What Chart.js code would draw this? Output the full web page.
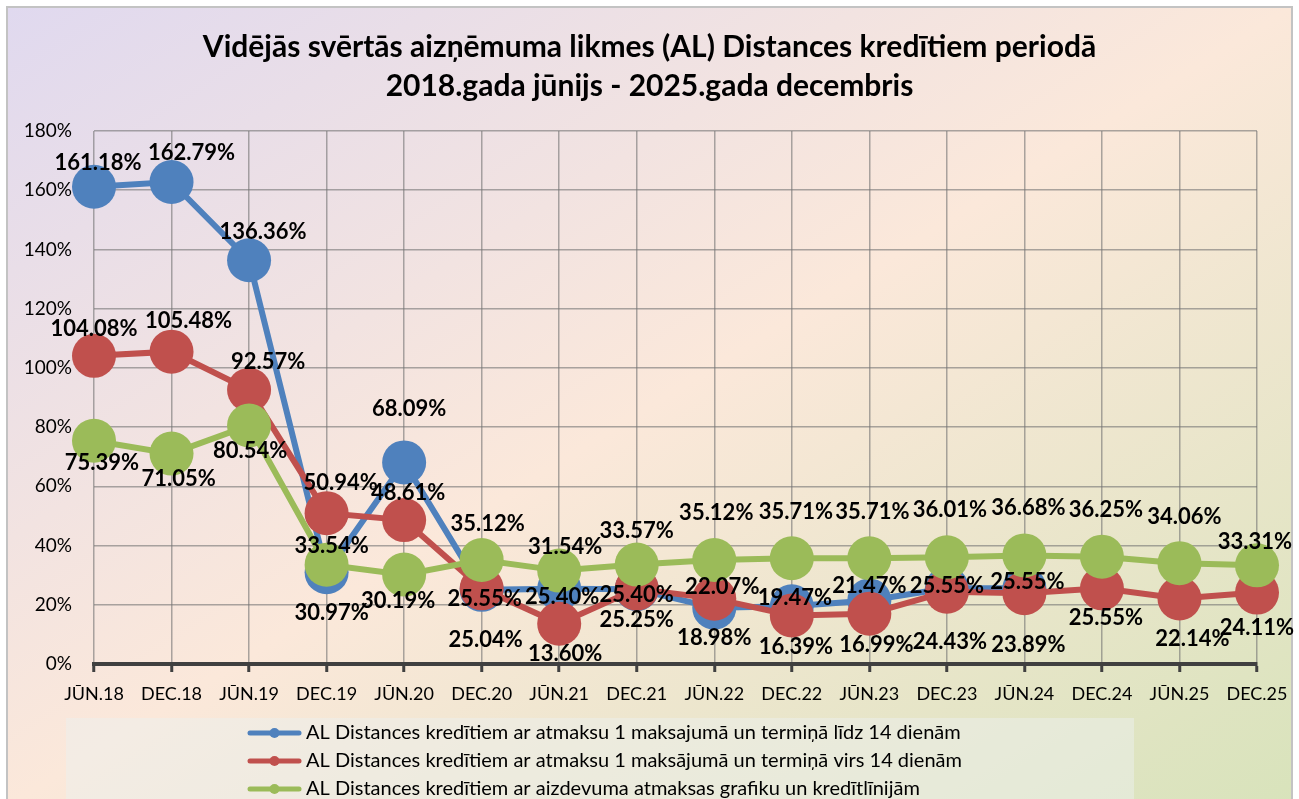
<!DOCTYPE html>
<html lang="lv">
<head>
<meta charset="utf-8">
<title>Vidējās svērtās aizņēmuma likmes (AL)</title>
<script src="https://cdn.jsdelivr.net/npm/chart.js@4.4.1/dist/chart.umd.min.js"></script>
<style>
    html, body { margin: 0; padding: 0; background: #fff; overflow: hidden; }
    #frame {
        position: absolute; left: 6px; top: 6px; width: 1287px; height: 800px;
        box-sizing: border-box; border: 2px solid #c3c3c3; border-bottom: none;
        background: linear-gradient(to bottom right, #e0d9ef 0%, #fbe8da 50%, #d8e3bb 100%);
    }
    #chart { position: absolute; left: 0; top: 0; }
</style>
</head>
<body>
<div id="frame"></div>
<canvas id="chart" width="1299" height="799"></canvas>
<script>
// Kategorijas (pusgadi)
const periods = ['JŪN.18', 'DEC.18', 'JŪN.19', 'DEC.19', 'JŪN.20', 'DEC.20', 'JŪN.21', 'DEC.21',
                 'JŪN.22', 'DEC.22', 'JŪN.23', 'DEC.23', 'JŪN.24', 'DEC.24', 'JŪN.25', 'DEC.25'];

// AL, % (1 maksājums, termiņš līdz 14 dienām)
const rateUpTo14 = [161.18, 162.79, 136.36, 30.97, 68.09, 25.04, 25.40, 25.25,
                    18.98, 19.47, 21.47, 25.55, 25.55, null, null, null];

// AL, % (1 maksājums, termiņš virs 14 dienām)
const rateOver14 = [104.08, 105.48, 92.57, 50.94, 48.61, 25.55, 13.60, 25.40,
                    22.07, 16.39, 16.99, 24.43, 23.89, 25.55, 22.14, 24.11];

// AL, % (atmaksas grafiks un kredītlīnijas)
const rateSchedule = [75.39, 71.05, 80.54, 33.54, 30.19, 35.12, 31.54, 33.57,
                      35.12, 35.71, 35.71, 36.01, 36.68, 36.25, 34.06, 33.31];

// Y ass iedaļas
const yTicks = [0, 20, 40, 60, 80, 100, 120, 140, 160, 180];

const seriesNames = [
    'AL Distances kredītiem ar atmaksu 1 maksajumā un termiņā līdz 14 dienām',
    'AL Distances kredītiem ar atmaksu 1 maksājumā un termiņā virs 14 dienām',
    'AL Distances kredītiem ar aizdevuma atmaksas grafiku un kredītlīnijām'
];

const titleLines = [
    'Vidējās svērtās aizņēmuma likmes (AL) Distances kredītiem periodā',
    '2018.gada jūnijs - 2025.gada decembris'
];

// Datu etiķešu nobīdes no punkta (dx, dy), tikai novietojumam
const labelShift = [
    [[4,-24],[20,-29],[14,-28],[5,41],[5,-53],[4,50],[3,8],[0,31],[0,30],[3,-8],[0,-15],[0,-2],[3,-6],null,null,null],
    [[0,-27],[17,-31],[19,-28],[14,-30],[4,-27],[3,11],[6,30],[0,6],[8,-12],[4,31],[7,31],[3,50],[4,52],[4,30],[13,40],[0,35]],
    [[8,22],[7,25],[1,25],[5,-19],[-6,26],[6,-36],[6,-24],[0,-34],[2,-47],[4,-46],[3,-46],[3,-47],[4,-47],[4,-47],[5,-46],[-2,-23]]
];

const FONT = 'Lato';

/**
 * Datu etiķetes virs marķieriem
 */
const valueLabels = {
    id: 'valueLabels',
    afterDatasetsDraw(chart) {
        const ctx = chart.ctx;
        ctx.save();
        ctx.font = `bold 22px ${FONT}`;
        ctx.fillStyle = '#000';
        ctx.textAlign = 'center';
        ctx.textBaseline = 'middle';
        chart.data.datasets.forEach((ds, di) => {
            const meta = chart.getDatasetMeta(di);
            meta.data.forEach((pt, i) => {
                const v = ds.data[i];
                const shift = labelShift[di][i];
                if (v === null || !shift) return;
                ctx.fillText(v.toFixed(2) + '%', pt.x + shift[0], pt.y + shift[1]);
            });
        });
        ctx.restore();
    }
};

/**
 * Leģenda zem diagrammas (katra sērija savā rindā)
 */
const legendBox = {
    id: 'legendBox',
    afterDraw(chart) {
        const ctx = chart.ctx;
        const top = chart.chartArea.bottom + 54;
        ctx.save();
        ctx.fillStyle = 'rgba(236,240,238,0.5)';
        ctx.fillRect(66, top, 1068, chart.height - top);
        ctx.font = `20px ${FONT}`;
        ctx.textAlign = 'left';
        ctx.textBaseline = 'middle';
        chart.data.datasets.forEach((ds, i) => {
            const y = top + 15 + i * 28;
            ctx.strokeStyle = ds.borderColor;
            ctx.fillStyle = ds.borderColor;
            ctx.lineWidth = 5;
            ctx.lineCap = 'round';
            ctx.beginPath();
            ctx.moveTo(250, y);
            ctx.lineTo(299, y);
            ctx.stroke();
            ctx.beginPath();
            ctx.arc(274.5, y, 5, 0, Math.PI * 2);
            ctx.fill();
            ctx.fillStyle = '#000';
            ctx.fillText(ds.label, 306, y);
        });
        ctx.restore();
    }
};

function makeSeries(label, data, color, order) {
    return {
        label: label,
        data: data,
        borderColor: color,
        backgroundColor: color,
        pointBackgroundColor: color,
        pointBorderWidth: 0,
        pointRadius: 22,
        borderWidth: 6,
        tension: 0,
        clip: false,
        order: order
    };
}

const gridColor = 'rgba(115,115,115,0.6)';

new Chart(document.getElementById('chart').getContext('2d'), {
    type: 'line',
    data: {
        labels: periods,
        datasets: [
            makeSeries(seriesNames[0], rateUpTo14, '#4f81bd', 3),
            makeSeries(seriesNames[1], rateOver14, '#c0504d', 2),
            makeSeries(seriesNames[2], rateSchedule, '#9bbb59', 1)
        ]
    },
    options: {
        responsive: false,
        animation: false,
        events: [],
        layout: { padding: 0 },
        plugins: {
            legend: { display: false },
            tooltip: { enabled: false },
            title: {
                display: true,
                text: titleLines,
                color: '#000',
                font: { family: FONT, size: 30, weight: 'bold', lineHeight: 1.3 },
                padding: { top: 28, bottom: 25 }
            }
        },
        scales: {
            x: {
                offset: false,
                grid: { color: gridColor, lineWidth: 1.5, tickColor: '#404040', tickWidth: 3, tickLength: 8 },
                border: { color: '#404040', width: 4 },
                ticks: { color: '#000', font: { family: FONT, size: 18 }, padding: 11, maxRotation: 0, autoSkip: false },
                afterFit(scale) { scale.height = 135; }
            },
            y: {
                min: yTicks[0],
                max: yTicks[yTicks.length - 1],
                afterBuildTicks(scale) { scale.ticks = yTicks.map(v => ({ value: v })); },
                grid: { color: gridColor, lineWidth: 1.5, drawTicks: false },
                border: { display: false },
                ticks: { color: '#000', font: { family: FONT, size: 19 }, padding: 22, callback: v => v + '%' },
                afterFit(scale) { scale.width = 94; }
            },
            // tukša labā mala, lai virsraksts paliek centrā
            yRight: {
                position: 'right',
                grid: { display: false },
                border: { display: false },
                ticks: { display: false },
                afterFit(scale) { scale.width = 42; }
            }
        }
    },
    plugins: [valueLabels, legendBox]
});
</script>
</body>
</html>
